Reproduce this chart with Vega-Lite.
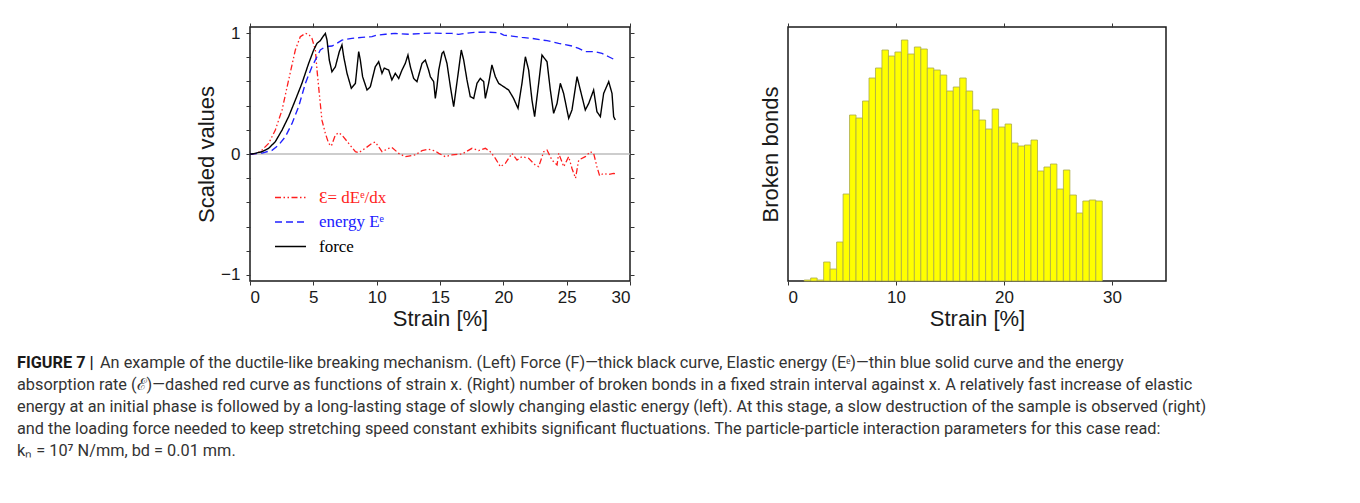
{
  "$schema": "https://vega.github.io/schema/vega-lite/v6.json",
  "background": "white",
  "padding": {"left": 17, "top": 21, "right": 0, "bottom": 0},
  "config": {
    "font": "Liberation Sans",
    "view": {"stroke": "#1a1a1a", "strokeWidth": 1.5},
    "axis": {"labelFont": "Liberation Sans", "titleFont": "Liberation Sans", "labelFontSize": 17, "titleFontSize": 22, "titleFontWeight": "normal", "labelColor": "#1a1a1a", "titleColor": "#1a1a1a", "tickColor": "#333333", "tickWidth": 1, "domain": false, "grid": false, "tickSize": 4, "labelPadding": 4}
  },
  "spacing": 22,
  "vconcat": [
    {
      "spacing": 0,
      "hconcat": [
        {"width": 177, "height": 254, "view": {"stroke": null}, "data": {"values": []}, "mark": "point", "encoding": {}},
        {
          "width": 380,
          "height": 254,
          "layer": [
            {
              "data": {"values": [{"z": 0}]},
              "mark": {"type": "rule", "color": "#bdbdbd", "strokeWidth": 1.5},
              "encoding": {"y": {"field": "z", "type": "quantitative", "axis": null}}
            },
            {
              "data": {"values": [
                {"s":"eps","x":0,"y":0},{"s":"eps","x":0.5,"y":0.003},{"s":"eps","x":0.95,"y":0.033},{"s":"eps","x":1.47,"y":0.088},{"s":"eps","x":2.0,"y":0.198},{"s":"eps","x":2.53,"y":0.364},{"s":"eps","x":3.05,"y":0.612},{"s":"eps","x":3.58,"y":0.86},{"s":"eps","x":3.97,"y":0.97},{"s":"eps","x":4.37,"y":0.997},{"s":"eps","x":4.63,"y":0.99},{"s":"eps","x":4.89,"y":0.956},{"s":"eps","x":5.16,"y":0.86},{"s":"eps","x":5.29,"y":0.694},{"s":"eps","x":5.47,"y":0.5},{"s":"eps","x":5.68,"y":0.28},{"s":"eps","x":5.95,"y":0.17},{"s":"eps","x":6.21,"y":0.088},{"s":"eps","x":6.42,"y":0.066},{"s":"eps","x":6.74,"y":0.157},{"s":"eps","x":7.0,"y":0.176},{"s":"eps","x":7.26,"y":0.157},{"s":"eps","x":7.79,"y":0.088},{"s":"eps","x":8.32,"y":0.019},{"s":"eps","x":8.58,"y":0.011},{"s":"eps","x":9.1,"y":0.047},{"s":"eps","x":9.63,"y":0.088},{"s":"eps","x":9.89,"y":0.099},{"s":"eps","x":10.16,"y":0.06},{"s":"eps","x":10.42,"y":0.019},{"s":"eps","x":10.95,"y":0.047},{"s":"eps","x":11.2,"y":0.055},{"s":"eps","x":11.74,"y":0.005},{"s":"eps","x":12.26,"y":-0.022},{"s":"eps","x":12.53,"y":-0.017},{"s":"eps","x":13.05,"y":-0.008},{"s":"eps","x":13.58,"y":0.028},{"s":"eps","x":14.1,"y":0.039},{"s":"eps","x":14.63,"y":0.025},{"s":"eps","x":14.9,"y":0.005},{"s":"eps","x":15.42,"y":-0.022},{"s":"eps","x":15.95,"y":-0.008},{"s":"eps","x":16.74,"y":0.0},{"s":"eps","x":17.53,"y":0.047},{"s":"eps","x":18.05,"y":0.028},{"s":"eps","x":18.58,"y":0.047},{"s":"eps","x":18.97,"y":0.019},{"s":"eps","x":19.37,"y":-0.036},{"s":"eps","x":19.76,"y":-0.105},{"s":"eps","x":20.16,"y":-0.077},{"s":"eps","x":20.68,"y":0.005},{"s":"eps","x":21.08,"y":-0.05},{"s":"eps","x":21.47,"y":-0.022},{"s":"eps","x":22.0,"y":-0.036},{"s":"eps","x":22.52,"y":-0.091},{"s":"eps","x":22.79,"y":-0.105},{"s":"eps","x":23.19,"y":0.019},{"s":"eps","x":23.45,"y":0.033},{"s":"eps","x":23.84,"y":-0.05},{"s":"eps","x":24.24,"y":-0.091},{"s":"eps","x":24.37,"y":0.005},{"s":"eps","x":24.77,"y":-0.105},{"s":"eps","x":25.16,"y":-0.022},{"s":"eps","x":25.42,"y":-0.12},{"s":"eps","x":25.7,"y":-0.2},{"s":"eps","x":25.95,"y":-0.05},{"s":"eps","x":26.47,"y":-0.022},{"s":"eps","x":26.87,"y":0.019},{"s":"eps","x":27.13,"y":0.005},{"s":"eps","x":27.39,"y":-0.105},{"s":"eps","x":27.6,"y":-0.18},{"s":"eps","x":27.9,"y":-0.16},{"s":"eps","x":28.3,"y":-0.17},{"s":"eps","x":28.7,"y":-0.16},{"s":"eps","x":29.0,"y":-0.165},
                {"s":"energy","x":0,"y":0},{"s":"energy","x":0.16,"y":0},{"s":"energy","x":0.95,"y":0.008},{"s":"energy","x":1.74,"y":0.03},{"s":"energy","x":2.26,"y":0.074},{"s":"energy","x":2.79,"y":0.143},{"s":"energy","x":3.32,"y":0.253},{"s":"energy","x":3.84,"y":0.391},{"s":"energy","x":4.37,"y":0.584},{"s":"energy","x":4.89,"y":0.722},{"s":"energy","x":5.29,"y":0.804},{"s":"energy","x":5.55,"y":0.86},{"s":"energy","x":5.95,"y":0.887},{"s":"energy","x":6.47,"y":0.893},{"s":"energy","x":6.87,"y":0.915},{"s":"energy","x":7.26,"y":0.942},{"s":"energy","x":8.05,"y":0.956},{"s":"energy","x":8.84,"y":0.964},{"s":"energy","x":9.63,"y":0.97},{"s":"energy","x":10.03,"y":0.983},{"s":"energy","x":10.69,"y":0.99},{"s":"energy","x":11.47,"y":0.997},{"s":"energy","x":12.53,"y":0.99},{"s":"energy","x":13.58,"y":0.997},{"s":"energy","x":14.37,"y":1.0},{"s":"energy","x":15.16,"y":0.997},{"s":"energy","x":15.95,"y":0.997},{"s":"energy","x":16.47,"y":0.989},{"s":"energy","x":17.0,"y":0.997},{"s":"energy","x":17.79,"y":1.006},{"s":"energy","x":18.58,"y":1.008},{"s":"energy","x":19.63,"y":1.003},{"s":"energy","x":20.03,"y":0.983},{"s":"energy","x":20.68,"y":0.975},{"s":"energy","x":21.47,"y":0.964},{"s":"energy","x":22.26,"y":0.956},{"s":"energy","x":23.05,"y":0.942},{"s":"energy","x":23.45,"y":0.937},{"s":"energy","x":24.37,"y":0.915},{"s":"energy","x":25.42,"y":0.893},{"s":"energy","x":25.95,"y":0.873},{"s":"energy","x":26.47,"y":0.846},{"s":"energy","x":27.26,"y":0.846},{"s":"energy","x":27.79,"y":0.832},{"s":"energy","x":28.32,"y":0.804},{"s":"energy","x":28.84,"y":0.777},
                {"s":"force","x":0,"y":0},{"s":"force","x":0.16,"y":0},{"s":"force","x":0.95,"y":0.019},{"s":"force","x":1.47,"y":0.047},{"s":"force","x":2.0,"y":0.102},{"s":"force","x":2.53,"y":0.198},{"s":"force","x":3.05,"y":0.309},{"s":"force","x":3.58,"y":0.446},{"s":"force","x":4.1,"y":0.584},{"s":"force","x":4.63,"y":0.749},{"s":"force","x":5.03,"y":0.86},{"s":"force","x":5.29,"y":0.915},{"s":"force","x":5.55,"y":0.937},{"s":"force","x":5.76,"y":0.97},{"s":"force","x":5.95,"y":0.997},{"s":"force","x":6.08,"y":0.942},{"s":"force","x":6.26,"y":0.777},{"s":"force","x":6.47,"y":0.68},{"s":"force","x":6.74,"y":0.721},{"s":"force","x":7.05,"y":0.846},{"s":"force","x":7.26,"y":0.901},{"s":"force","x":7.4,"y":0.804},{"s":"force","x":7.66,"y":0.667},{"s":"force","x":8.0,"y":0.543},{"s":"force","x":8.32,"y":0.584},{"s":"force","x":8.58,"y":0.846},{"s":"force","x":8.71,"y":0.777},{"s":"force","x":8.89,"y":0.639},{"s":"force","x":9.24,"y":0.529},{"s":"force","x":9.5,"y":0.556},{"s":"force","x":9.89,"y":0.721},{"s":"force","x":10.16,"y":0.763},{"s":"force","x":10.42,"y":0.667},{"s":"force","x":10.6,"y":0.71},{"s":"force","x":10.95,"y":0.694},{"s":"force","x":11.2,"y":0.612},{"s":"force","x":11.47,"y":0.667},{"s":"force","x":11.74,"y":0.625},{"s":"force","x":12.0,"y":0.694},{"s":"force","x":12.26,"y":0.749},{"s":"force","x":12.47,"y":0.818},{"s":"force","x":12.66,"y":0.721},{"s":"force","x":12.92,"y":0.625},{"s":"force","x":13.18,"y":0.598},{"s":"force","x":13.58,"y":0.749},{"s":"force","x":13.84,"y":0.777},{"s":"force","x":14.1,"y":0.694},{"s":"force","x":14.24,"y":0.639},{"s":"force","x":14.5,"y":0.598},{"s":"force","x":14.63,"y":0.46},{"s":"force","x":14.76,"y":0.556},{"s":"force","x":14.9,"y":0.694},{"s":"force","x":15.16,"y":0.832},{"s":"force","x":15.29,"y":0.846},{"s":"force","x":15.55,"y":0.749},{"s":"force","x":15.82,"y":0.556},{"s":"force","x":16.08,"y":0.391},{"s":"force","x":16.47,"y":0.694},{"s":"force","x":16.68,"y":0.86},{"s":"force","x":16.87,"y":0.777},{"s":"force","x":17.13,"y":0.612},{"s":"force","x":17.39,"y":0.474},{"s":"force","x":17.66,"y":0.46},{"s":"force","x":17.92,"y":0.584},{"s":"force","x":18.18,"y":0.625},{"s":"force","x":18.45,"y":0.598},{"s":"force","x":18.58,"y":0.46},{"s":"force","x":18.84,"y":0.584},{"s":"force","x":19.1,"y":0.736},{"s":"force","x":19.37,"y":0.639},{"s":"force","x":19.63,"y":0.584},{"s":"force","x":20.03,"y":0.556},{"s":"force","x":20.42,"y":0.529},{"s":"force","x":20.81,"y":0.46},{"s":"force","x":21.16,"y":0.377},{"s":"force","x":21.47,"y":0.584},{"s":"force","x":21.74,"y":0.804},{"s":"force","x":22.0,"y":0.694},{"s":"force","x":22.26,"y":0.446},{"s":"force","x":22.47,"y":0.309},{"s":"force","x":22.79,"y":0.584},{"s":"force","x":23.05,"y":0.818},{"s":"force","x":23.45,"y":0.763},{"s":"force","x":23.71,"y":0.529},{"s":"force","x":23.97,"y":0.336},{"s":"force","x":24.24,"y":0.418},{"s":"force","x":24.5,"y":0.584},{"s":"force","x":24.76,"y":0.501},{"s":"force","x":25.16,"y":0.295},{"s":"force","x":25.42,"y":0.364},{"s":"force","x":25.82,"y":0.639},{"s":"force","x":26.08,"y":0.529},{"s":"force","x":26.47,"y":0.364},{"s":"force","x":26.74,"y":0.418},{"s":"force","x":27.13,"y":0.529},{"s":"force","x":27.39,"y":0.35},{"s":"force","x":27.66,"y":0.309},{"s":"force","x":27.92,"y":0.501},{"s":"force","x":28.32,"y":0.598},{"s":"force","x":28.58,"y":0.501},{"s":"force","x":28.71,"y":0.309},{"s":"force","x":28.84,"y":0.281}
              ]},
              "mark": {"type": "line", "clip": true},
              "encoding": {
                "x": {"field": "x", "type": "quantitative", "scale": {"domain": [0, 30], "nice": false, "zero": false}, "axis": {"orient": "bottom", "values": [0, 5, 10, 15, 20, 25, 30], "title": "Strain [%]", "titlePadding": 3}},
                "y": {"field": "y", "type": "quantitative", "scale": {"domain": [-1.05, 1.05], "nice": false, "zero": false}, "axis": {"orient": "left", "values": [-1, -0.8, -0.6, -0.4, -0.2, 0, 0.2, 0.4, 0.6, 0.8, 1], "labelExpr": "datum.value == 1 ? '1' : datum.value == 0 ? '0' : datum.value == -1 ? '−1' : ''", "title": "Scaled values", "titlePadding": 2, "labelPadding": 6}},
                "color": {"field": "s", "type": "nominal", "scale": {"domain": ["eps", "energy", "force"], "range": ["#ff1e1e", "#2020ff", "#000000"]}, "legend": {"orient": "none", "legendX": 265, "legendY": 162, "title": null, "symbolType": "M-2,0H2", "symbolSize": 240, "symbolStrokeWidth": 1.3, "labelFont": "Liberation Serif", "labelFontSize": 17, "rowPadding": 6.5, "labelOffset": 20, "labelExpr": "datum.value == 'eps' ? 'Ɛ= dEᵉ/dx' : datum.value == 'energy' ? 'energy Eᵉ' : 'force'", "labelColor": {"expr": "datum.value == 'eps' ? '#ff1e1e' : datum.value == 'energy' ? '#2020ff' : '#000000'"}}},
                "strokeDash": {"field": "s", "type": "nominal", "scale": {"domain": ["eps", "energy", "force"], "range": [[6, 2.5, 1.5, 2.5, 1.5, 2.5], [7, 4], [1, 0]]}, "legend": {"orient": "none", "legendX": 265, "legendY": 162, "title": null, "symbolType": "M-2,0H2", "symbolSize": 240, "symbolStrokeWidth": 1.3, "labelFont": "Liberation Serif", "labelFontSize": 17, "rowPadding": 6.5, "labelOffset": 20, "labelExpr": "datum.value == 'eps' ? 'Ɛ= dEᵉ/dx' : datum.value == 'energy' ? 'energy Eᵉ' : 'force'", "labelColor": {"expr": "datum.value == 'eps' ? '#ff1e1e' : datum.value == 'energy' ? '#2020ff' : '#000000'"}}},
                "strokeWidth": {"field": "s", "type": "nominal", "scale": {"domain": ["eps", "energy", "force"], "range": [1.3, 1.4, 1.9]}, "legend": null}
              }
            },
            {
              "data": {"values": [{"z": 0}]},
              "mark": {"type": "rule", "opacity": 0},
              "encoding": {"x": {"field": "z", "type": "quantitative", "axis": {"orient": "top", "values": [0, 5, 10, 15, 20, 25, 30], "labels": false, "title": null}}}
            },
            {
              "data": {"values": [{"z": 0}]},
              "mark": {"type": "rule", "opacity": 0},
              "encoding": {"y": {"field": "z", "type": "quantitative", "axis": {"orient": "right", "values": [-1, -0.8, -0.6, -0.4, -0.2, 0, 0.2, 0.4, 0.6, 0.8, 1], "labels": false, "title": null}}}
            }
          ],
          "resolve": {"axis": {"x": "independent", "y": "independent"}}
        },
        {"width": 122, "height": 254, "view": {"stroke": null}, "data": {"values": []}, "mark": "point", "encoding": {}},
        {
          "width": 378,
          "height": 254,
          "layer": [
            {
              "data": {"values": [
                {"a":1.5,"b":2.1,"n":1},{"a":2.1,"b":2.7,"n":3},{"a":2.7,"b":3.3,"n":1},{"a":3.3,"b":3.9,"n":19},{"a":3.9,"b":4.5,"n":12},{"a":4.5,"b":5.1,"n":39},{"a":5.1,"b":5.7,"n":87},{"a":5.7,"b":6.3,"n":166},{"a":6.3,"b":6.9,"n":163},{"a":6.9,"b":7.5,"n":180},{"a":7.5,"b":8.1,"n":203},{"a":8.1,"b":8.7,"n":213},{"a":8.7,"b":9.3,"n":231},{"a":9.3,"b":9.9,"n":225},{"a":9.9,"b":10.5,"n":229},{"a":10.5,"b":11.1,"n":241},{"a":11.1,"b":11.7,"n":227},{"a":11.7,"b":12.3,"n":234},{"a":12.3,"b":12.9,"n":232},{"a":12.9,"b":13.5,"n":213},{"a":13.5,"b":14.1,"n":211},{"a":14.1,"b":14.7,"n":206},{"a":14.7,"b":15.3,"n":190},{"a":15.3,"b":15.9,"n":194},{"a":15.9,"b":16.5,"n":203},{"a":16.5,"b":17.1,"n":190},{"a":17.1,"b":17.7,"n":171},{"a":17.7,"b":18.3,"n":161},{"a":18.3,"b":18.9,"n":152},{"a":18.9,"b":19.5,"n":172},{"a":19.5,"b":20.1,"n":154},{"a":20.1,"b":20.7,"n":157},{"a":20.7,"b":21.3,"n":138},{"a":21.3,"b":21.9,"n":135},{"a":21.9,"b":22.5,"n":136},{"a":22.5,"b":23.1,"n":141},{"a":23.1,"b":23.7,"n":110},{"a":23.7,"b":24.3,"n":114},{"a":24.3,"b":24.9,"n":117},{"a":24.9,"b":25.5,"n":92},{"a":25.5,"b":26.1,"n":111},{"a":26.1,"b":26.7,"n":86},{"a":26.7,"b":27.3,"n":68},{"a":27.3,"b":27.9,"n":80},{"a":27.9,"b":28.5,"n":81},{"a":28.5,"b":29.1,"n":80}
              ]},
              "mark": {"type": "rect", "fill": "#ffff00", "stroke": "#a9a94a", "strokeWidth": 0.8},
              "encoding": {
                "x": {"field": "a", "type": "quantitative", "scale": {"domain": [0, 35], "nice": false, "zero": false}, "axis": {"orient": "bottom", "values": [0, 10, 20, 30], "title": "Strain [%]", "titlePadding": 3}},
                "x2": {"field": "b"},
                "y": {"field": "n", "type": "quantitative", "scale": {"domain": [0, 254], "nice": false}, "axis": {"title": "Broken bonds", "labels": false, "ticks": false, "titlePadding": 6}},
                "y2": {"datum": 0}
              }
            },
            {
              "data": {"values": [{"z": 0}]},
              "mark": {"type": "rule", "opacity": 0},
              "encoding": {"x": {"field": "z", "type": "quantitative", "axis": {"orient": "top", "values": [0, 10, 20, 30], "labels": false, "title": null}}}
            }
          ],
          "resolve": {"axis": {"x": "independent"}}
        }
      ]
    },
    {
      "width": 1330,
      "height": 110,
      "view": {"stroke": null},
      "data": {"values": [
        {"line": 1, "part": "pre", "text": "FIGURE 7 |"},
        {"line": 1, "part": "body", "text": "An example of the ductile-like breaking mechanism. (Left) Force (F)—thick black curve, Elastic energy (Eᵉ)—thin blue solid curve and the energy"},
        {"line": 2, "part": "main", "text": "absorption rate (ℰ)—dashed red curve as functions of strain x. (Right) number of broken bonds in a fixed strain interval against x. A relatively fast increase of elastic"},
        {"line": 3, "part": "main", "text": "energy at an initial phase is followed by a long-lasting stage of slowly changing elastic energy (left). At this stage, a slow destruction of the sample is observed (right)"},
        {"line": 4, "part": "main", "text": "and the loading force needed to keep stretching speed constant exhibits significant fluctuations. The particle-particle interaction parameters for this case read:"},
        {"line": 5, "part": "main", "text": "kₙ = 10⁷ N/mm, bd = 0.01 mm."}
      ]},
      "encoding": {
        "y": {"field": "line", "type": "ordinal", "scale": {"type": "point", "padding": 0.5, "domain": [1, 2, 3, 4, 5]}, "axis": null},
        "text": {"field": "text"}
      },
      "layer": [
        {"transform": [{"filter": "datum.part == 'pre'"}], "mark": {"type": "text", "align": "left", "baseline": "middle", "x": 0, "font": "Roboto", "fontSize": 16.3, "fontWeight": "bold", "color": "#1a1a1a"}},
        {"transform": [{"filter": "datum.part == 'body'"}], "mark": {"type": "text", "align": "left", "baseline": "middle", "x": 0, "dx": 83, "font": "Roboto", "fontSize": 16.3, "color": "#333333"}},
        {"transform": [{"filter": "datum.part == 'main'"}], "mark": {"type": "text", "align": "left", "baseline": "middle", "x": 0, "font": "Roboto", "fontSize": 16.3, "color": "#333333"}}
      ]
    }
  ]
}
